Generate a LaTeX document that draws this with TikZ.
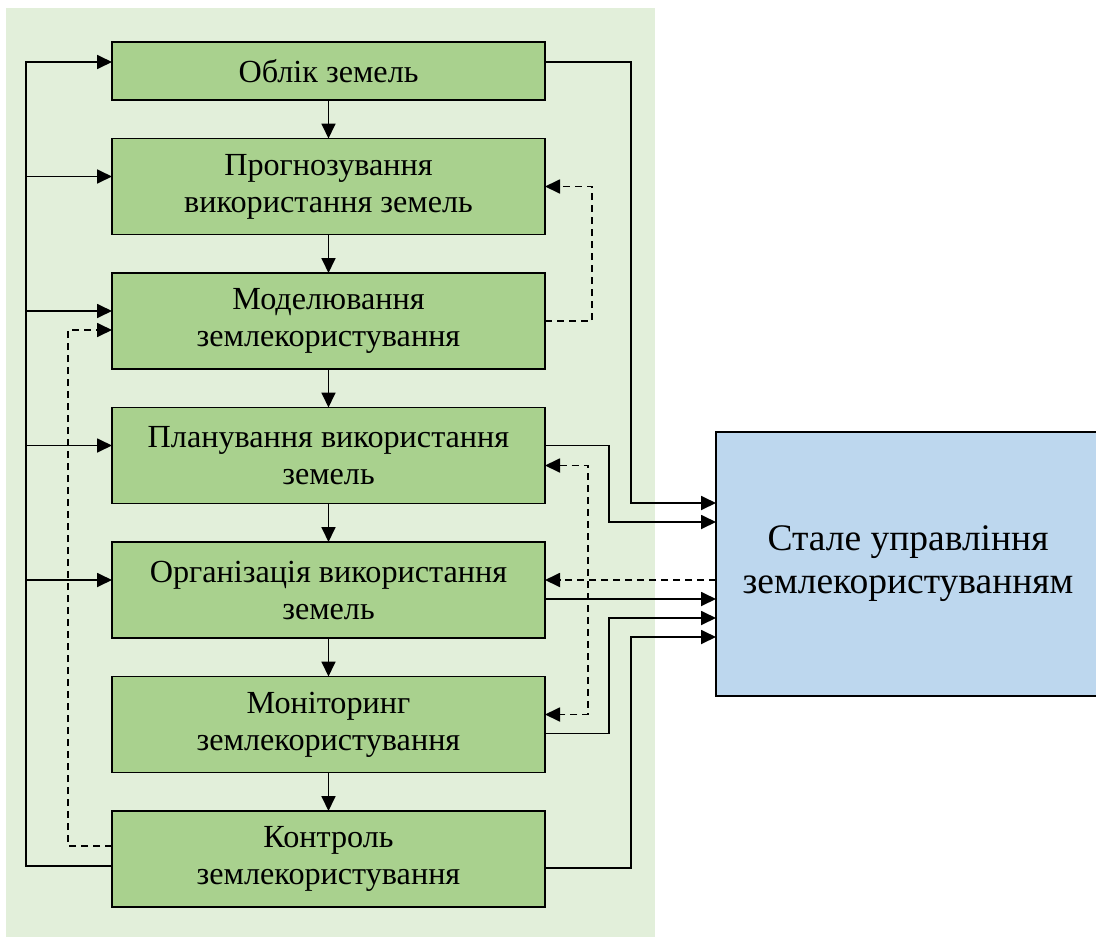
\documentclass[tikz,border=0pt]{standalone}
\usepackage{fontspec}
\setmainfont{Liberation Serif}
\usepackage{xcolor}
\usetikzlibrary{positioning, arrows.meta}
\definecolor{panelgreen}{HTML}{E2EFDA}
\definecolor{stagegreen}{HTML}{A9D18E}
\definecolor{goalblue}{HTML}{BDD7EE}

\begin{document}
\begin{tikzpicture}[
      x=1pt, y=1pt,
      node distance=38.5pt,
      >={Triangle[length=15pt, width=14pt]},
      stage/.style={draw, rectangle, line width=1.8pt, fill=stagegreen, align=center, minimum width=433pt, minimum height=96pt, inner sep=0pt, outer sep=0pt, font=\fontsize{32.2}{37}\selectfont},
      goal/.style={draw, rectangle, line width=1.8pt, fill=goalblue, align=center, minimum width=384pt, minimum height=264pt, inner sep=0pt, outer sep=0pt, font=\fontsize{37.5}{43}\selectfont},
      flow/.style={->, line width=1.8pt},
      back/.style={line width=1.8pt, dash pattern=on 7pt off 5pt}
    ]
    \useasboundingbox (0,0) rectangle (1096,-937);
    \fill[panelgreen] (6,-8) rectangle (655,-937);

    \node[stage, minimum height=58pt] (oblik) at (328.5,-71) {Облік земель};
    \node[stage] (prognoz) [below=of oblik] {Прогнозування\\використання земель};
    \node[stage] (model) [below=of prognoz] {Моделювання\\землекористування};
    \node[stage] (plan) [below=of model] {Планування використання\\земель};
    \node[stage] (org) [below=of plan] {Організація використання\\земель};
    \node[stage] (monit) [below=of org] {Моніторинг\\землекористування};
    \node[stage] (kontrol) [below=of monit] {Контроль\\землекористування};
    \node[goal] (stale) at (908,-564) {Стале управління\\землекористуванням};
    \coordinate (bus) at (26,-62);

    \foreach \a/\b in {oblik/prognoz, prognoz/model, model/plan, plan/org, org/monit, monit/kontrol}
      \draw[flow] (\a) -- (\b);

    \draw[flow] ([yshift=-7]kontrol.west) -| (bus) -- ([yshift=9]oblik.west);
    \foreach \n in {prognoz, model, plan, org}
      \draw[flow] ([yshift=10]\n.west -| bus) -- ([yshift=10]\n.west);

    \draw[flow] ([yshift=9]oblik.east) -- ++(86,0) |- ([yshift=61]stale.west);
    \draw[flow] ([yshift=10]plan.east) -- ++(64,0) |- ([yshift=42]stale.west);
    \draw[flow] ([yshift=-9]org.east) -- ([yshift=-9]org.east -| stale.west);
    \draw[flow] ([yshift=-9]monit.east) -- ++(64,0) |- ([yshift=-54]stale.west);
    \draw[flow] ([yshift=-9]kontrol.east) -- ++(86,0) |- ([yshift=-73]stale.west);

    \draw[back, ->] (model.east) -- ++(47,0) |- (prognoz.east);
    \draw[back, ->] ([yshift=13]kontrol.west) -- ++(-44,0) |- ([yshift=-9]model.west);
    \draw[back, ->] ([yshift=10]org.east -| stale.west) -- ([yshift=10]org.east);
    \draw[back, <->] ([yshift=-10]plan.east) -- ++(43,0) |- ([yshift=10]monit.east);
  \end{tikzpicture}
\end{document}
